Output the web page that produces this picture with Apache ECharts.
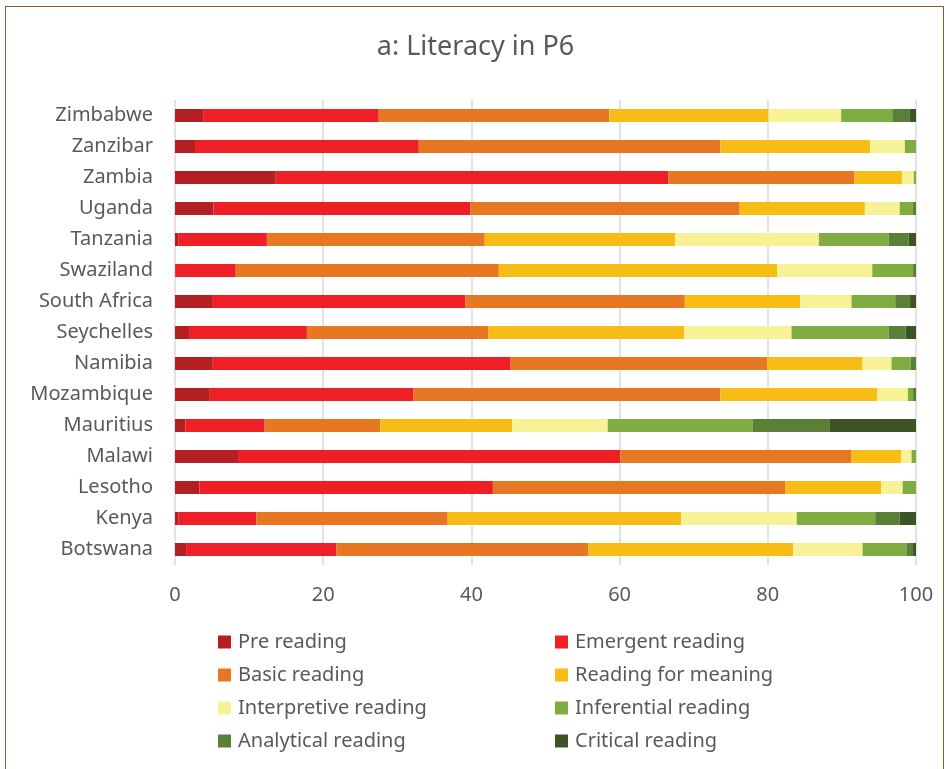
<!DOCTYPE html>
<html>
<head>
<meta charset="utf-8">
<script src="https://cdn.jsdelivr.net/npm/echarts@6/dist/echarts.min.js"></script>
<style>
  html, body { margin: 0; padding: 0; background: #fff; }
  #frame { position: absolute; left: 5px; top: 6px; width: 939px; height: 770px; border: 1px solid #8b5a2b; box-sizing: border-box; }
  #chart { position: absolute; left: 0; top: 0; width: 951px; height: 769px; }
</style>
</head>
<body>
<div id="frame"></div>
<div id="chart"></div>
<script>
// countries, bottom to top
var countries = ['Botswana', 'Kenya', 'Lesotho', 'Malawi', 'Mauritius', 'Mozambique', 'Namibia', 'Seychelles',
  'South Africa', 'Swaziland', 'Tanzania', 'Uganda', 'Zambia', 'Zanzibar', 'Zimbabwe'];

var preReading      = [1.5, 0.5, 3.3, 8.5, 1.4, 4.7, 5.1, 1.9, 5.0, 0.1, 0.5, 5.2, 13.6, 2.7, 3.8];
var emergent        = [20.3, 10.5, 39.6, 51.6, 10.7, 27.5, 40.2, 15.9, 34.2, 8.1, 11.9, 34.7, 53.0, 30.2, 23.7];
var basic           = [34.0, 25.8, 39.5, 31.2, 15.6, 41.4, 34.6, 24.5, 29.6, 35.5, 29.4, 36.3, 25.1, 40.7, 31.1];
var forMeaning      = [27.6, 31.5, 12.9, 6.7, 17.8, 21.2, 12.9, 26.4, 15.6, 37.6, 25.7, 16.9, 6.4, 20.2, 21.5];
var interpretive    = [9.4, 15.6, 2.9, 1.4, 12.9, 4.1, 3.9, 14.5, 6.9, 12.8, 19.4, 4.7, 1.6, 4.7, 9.8];
var inferential     = [5.9, 10.6, 1.8, 0.6, 19.6, 0.7, 2.6, 13.1, 5.9, 5.5, 9.4, 1.8, 0.3, 1.5, 6.9];
var analytical      = [0.9, 3.3, 0, 0, 10.3, 0.4, 0.7, 2.3, 2.0, 0.4, 2.7, 0.4, 0, 0, 2.3];
var critical        = [0.4, 2.2, 0, 0, 11.7, 0, 0, 1.4, 0.8, 0, 1.0, 0, 0, 0, 0.9];

var levelNames = ['Pre reading', 'Emergent reading', 'Basic reading', 'Reading for meaning',
  'Interpretive reading', 'Inferential reading', 'Analytical reading', 'Critical reading'];
var levelData = [preReading, emergent, basic, forMeaning, interpretive, inferential, analytical, critical];
var levelColors = ['#b41f24', '#ee1f25', '#e87724', '#f7bd16', '#f8f297', '#7fad41', '#5a7f37', '#3c5426'];

var textColor = '#595959';
var font = 'Noto Sans';

var series = [];
for (var i = 0; i < levelNames.length; i++) {
  series.push({
    name: levelNames[i],
    type: 'bar',
    stack: 'total',
    barWidth: 13,
    itemStyle: { color: levelColors[i] },
    data: levelData[i]
  });
}

var legendBase = {
  orient: 'vertical',
  top: 632,
  padding: 0,
  itemWidth: 13,
  itemHeight: 13,
  itemGap: 13,
  icon: 'rect',
  textStyle: { color: textColor, fontSize: 20, fontFamily: font, padding: [0, 0, 0, 2] }
};

var chart = echarts.init(document.getElementById('chart'));
chart.setOption({
  animation: false,
  title: {
    text: 'a: Literacy in P6',
    left: 'center',
    top: 29,
    textStyle: { color: textColor, fontSize: 27, fontWeight: 'normal', fontFamily: font }
  },
  legend: [
    Object.assign({}, legendBase, { left: 218, data: ['Pre reading', 'Basic reading', 'Interpretive reading', 'Analytical reading'] }),
    Object.assign({}, legendBase, { left: 555, data: ['Emergent reading', 'Reading for meaning', 'Inferential reading', 'Critical reading'] })
  ],
  grid: { left: 175, right: 35, top: 100, height: 465, containLabel: false },
  xAxis: {
    type: 'value',
    min: 0,
    max: 100,
    interval: 20,
    axisLine: { show: false },
    axisTick: { show: false },
    splitLine: { lineStyle: { color: '#d9d9d9', width: 1.5 } },
    axisLabel: { color: textColor, fontSize: 20, fontFamily: font, margin: 20 }
  },
  yAxis: {
    type: 'category',
    data: countries,
    axisLine: { show: false },
    axisTick: { show: false },
    axisLabel: { color: textColor, fontSize: 20, fontFamily: font, margin: 22 }
  },
  series: series
});
</script>
</body>
</html>
